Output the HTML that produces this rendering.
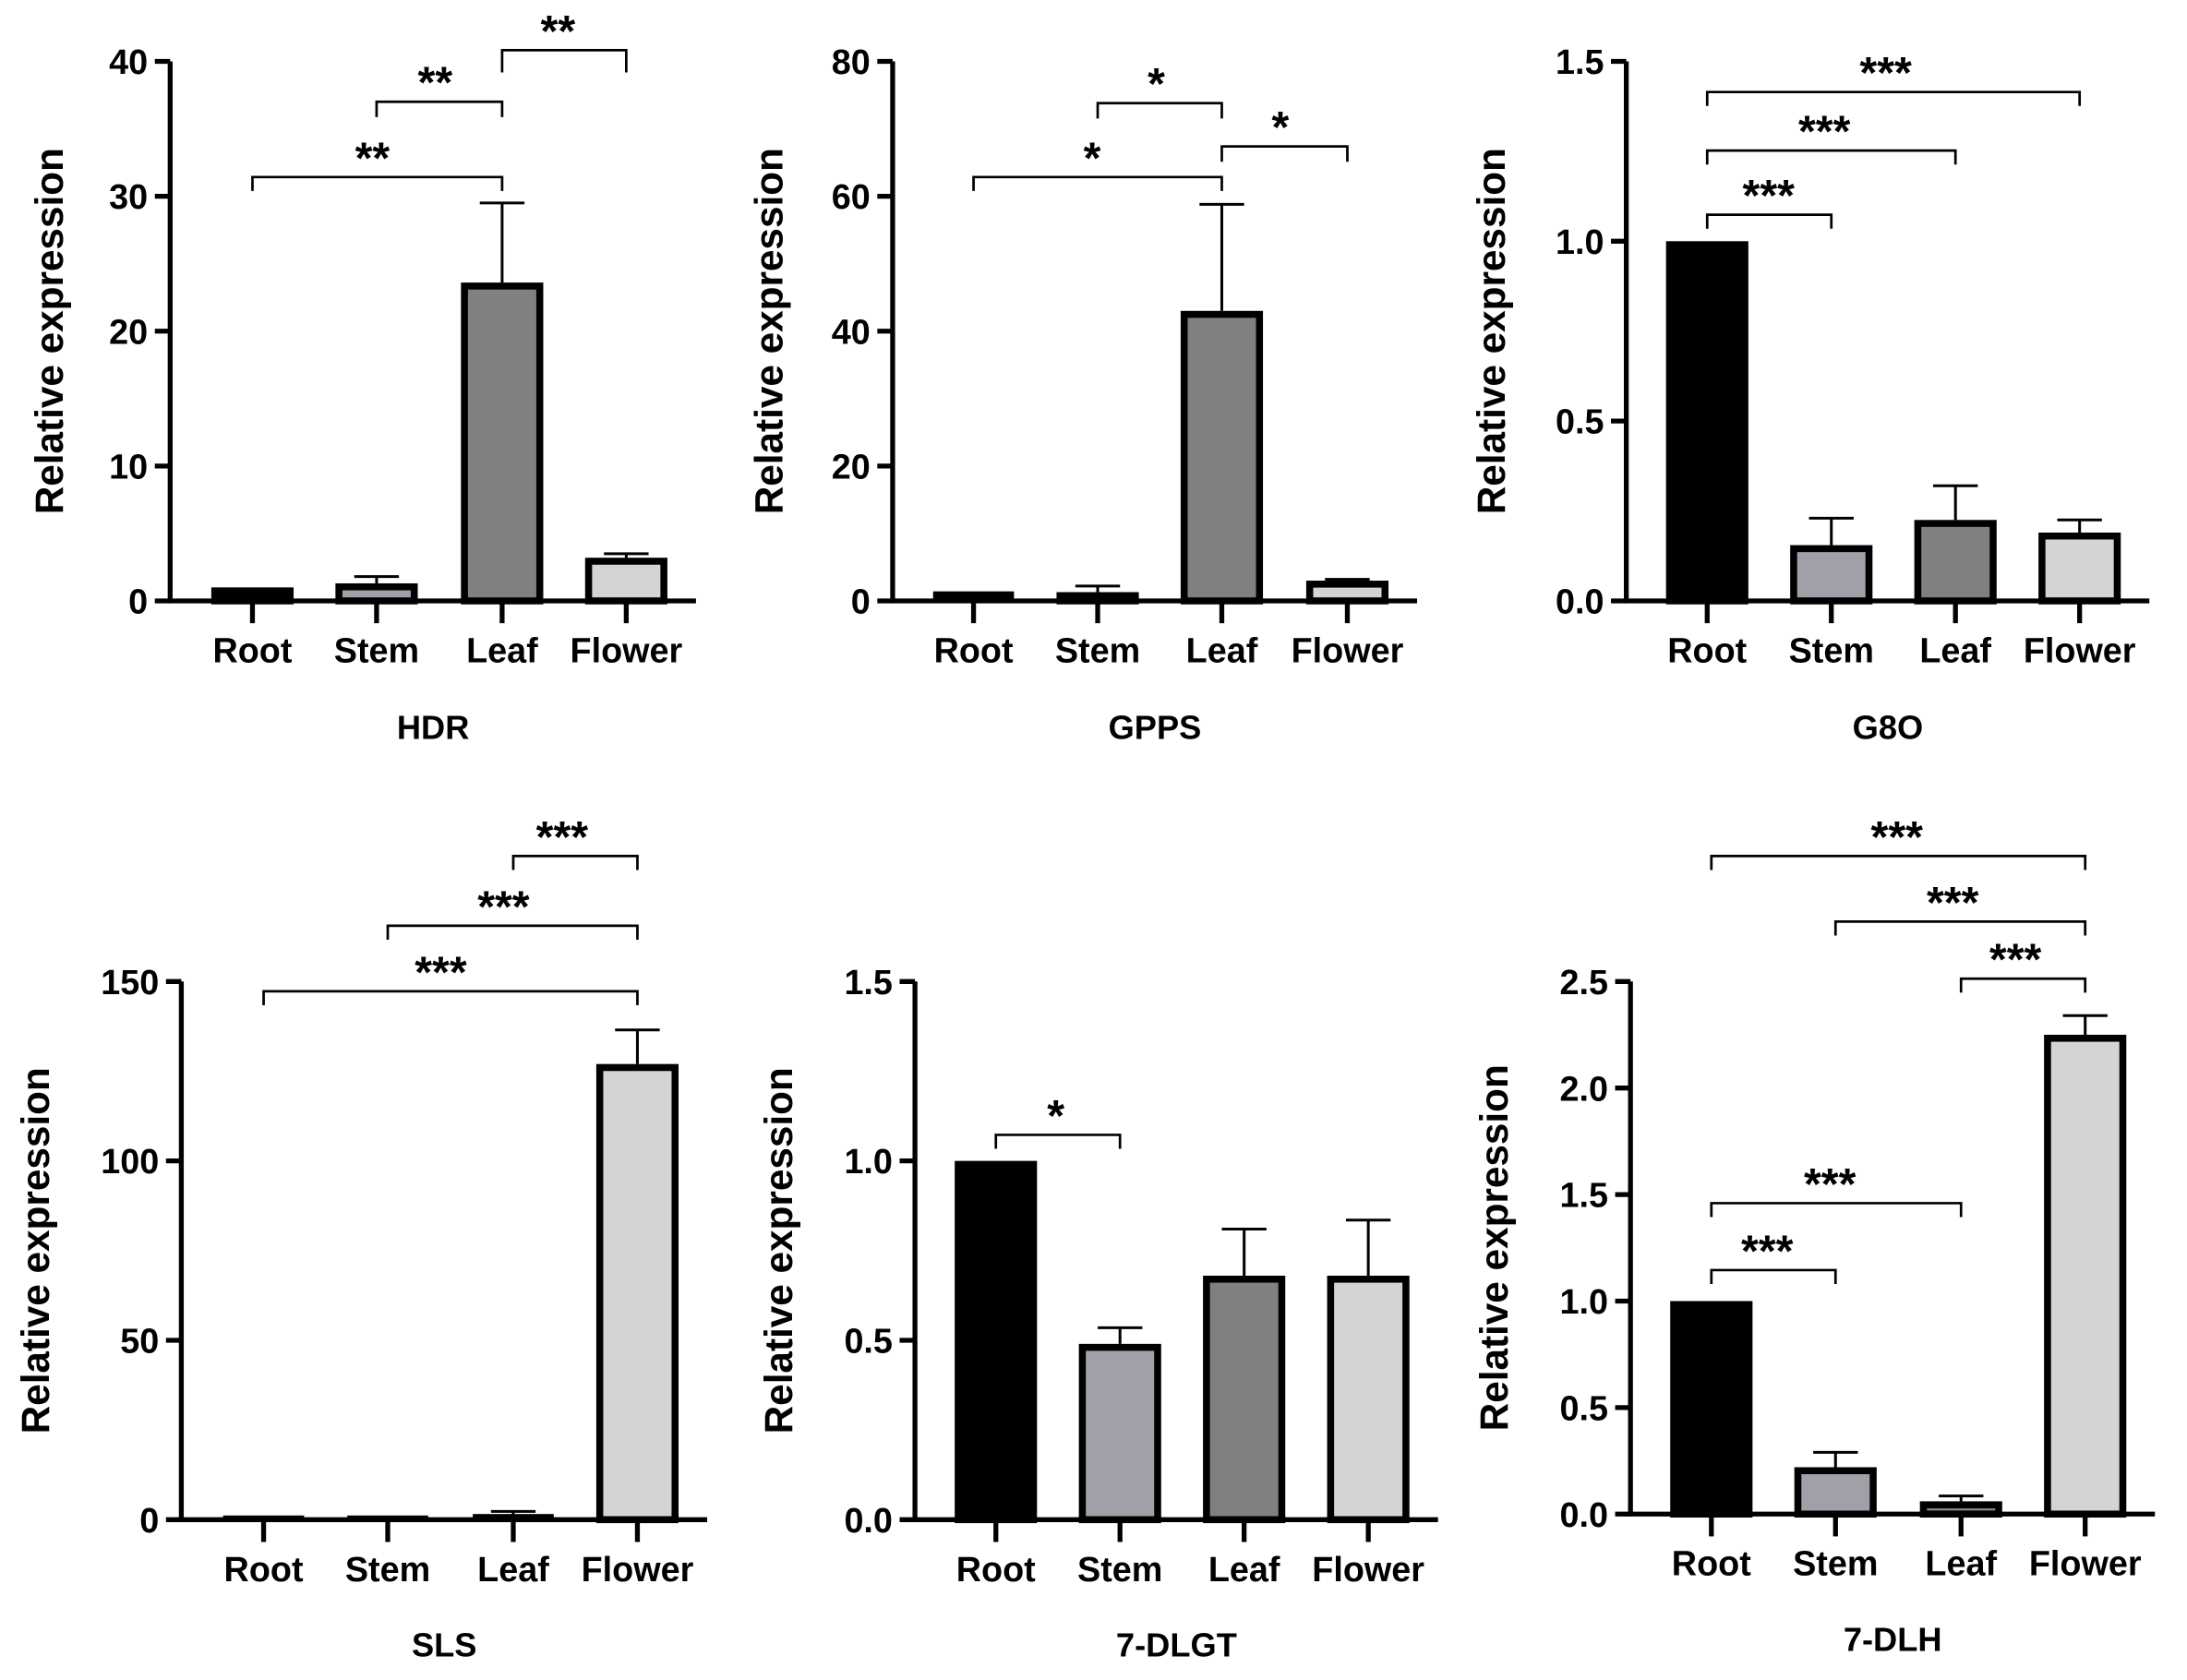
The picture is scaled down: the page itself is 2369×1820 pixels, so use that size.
<!DOCTYPE html>
<html><head><meta charset="utf-8"><style>
html,body{margin:0;padding:0;background:#fff;}
svg{display:block;}
text{font-family:"Liberation Sans",Arial,sans-serif;font-weight:bold;fill:#000;}
</style></head><body>
<svg id="s" width="2369" height="1820" viewBox="0 0 1568 1205" preserveAspectRatio="none" xmlns="http://www.w3.org/2000/svg"></svg>
<script>
const cols=["#000000","#a0a0a8","#808080","#d4d4d4"];
const names=["Root","Stem","Leaf","Flower"];
const P=[
{ax:122,top:44,bot:431,max:40,ticks:[0,10,20,30,40],lab:v=>v,cx:[181,270,360,449],vals:[1,1.3,23.6,3.2],err:[null,1.8,29.5,3.5],title:"HDR",ly:475,ty:530,ylx:35,
 br:[[0,2,127,10,"**",267],[1,2,73,11,"**",312],[2,3,36,16,"**",400]]},
{ax:640,top:44,bot:431,max:80,ticks:[0,20,40,60,80],lab:v=>v,cx:[698,787,876,966],vals:[1,1.3,43,3],err:[null,2.2,58.8,3.2],title:"GPPS",ly:475,ty:530,ylx:551,
 br:[[0,2,127,10,"*",783],[1,2,74,11,"*",829],[2,3,105,11,"*",918]]},
{ax:1166,top:44,bot:431,max:1.5,ticks:[0,0.5,1,1.5],lab:v=>v.toFixed(1),cx:[1224,1313,1402,1491],vals:[1,0.155,0.225,0.19],err:[null,0.23,0.32,0.225],title:"G8O",ly:475,ty:530,ylx:1069,
 br:[[0,1,154,10,"***",1268],[0,2,108,10,"***",1308],[0,3,66,10,"***",1352]]},
{ax:130,top:704,bot:1090,max:150,ticks:[0,50,100,150],lab:v=>v,cx:[189,278,368,457],vals:[0.3,0.1,0.8,127],err:[null,null,2.3,136.5],title:"SLS",ly:1134,ty:1188,ylx:25,
 br:[[0,3,711,10,"***",316],[1,3,664,10,"***",361],[2,3,614,10,"***",403]]},
{ax:656,top:704,bot:1090,max:1.5,ticks:[0,0.5,1,1.5],lab:v=>v.toFixed(1),cx:[714,803,892,981],vals:[1,0.49,0.68,0.68],err:[null,0.535,0.81,0.835],title:"7-DLGT",ly:1134,ty:1188,ylx:558,
 br:[[0,1,814,10,"*",757]]},
{ax:1169,top:704,bot:1086,max:2.5,ticks:[0,0.5,1,1.5,2,2.5],lab:v=>v.toFixed(1),cx:[1227,1316,1406,1495],vals:[1,0.22,0.06,2.25],err:[null,0.29,0.085,2.34],title:"7-DLH",ly:1130,ty:1184,ylx:1071,
 br:[[0,1,911,10,"***",1267],[0,2,863,10,"***",1312],[2,3,702,10,"***",1445],[1,3,661,10,"***",1400],[0,3,614,10,"***",1360]]}
];
let h="";
for(const p of P){
 const Y=v=>p.bot-(p.bot-p.top)*v/p.max;
 const xr=p.cx[3]+50;
 p.vals.forEach((v,i)=>{
  const y=Y(v),x=p.cx[i]-27;
  if(p.err[i]!=null){const ye=Y(p.err[i]);h+=`<line x1="${p.cx[i]}" y1="${y}" x2="${p.cx[i]}" y2="${ye}" stroke="#000" stroke-width="2"/><line x1="${p.cx[i]-16}" y1="${ye}" x2="${p.cx[i]+16}" y2="${ye}" stroke="#000" stroke-width="2"/>`;}
  const hh=Math.max(p.bot-y,1);
  if(hh>6) h+=`<rect x="${x}" y="${y+2.5}" width="54" height="${hh-2.5}" fill="${cols[i]}" stroke="#000" stroke-width="5"/>`;
  else h+=`<rect x="${x-2}" y="${p.bot-Math.max(hh+2,3)}" width="58" height="${Math.max(hh+2,3)}" fill="#000"/>`;
 });
 h+=`<line x1="${p.ax}" y1="${p.top}" x2="${p.ax}" y2="${p.bot+1.5}" stroke="#000" stroke-width="3.5"/>`;
 h+=`<line x1="${p.ax-1.5}" y1="${p.bot}" x2="${xr}" y2="${p.bot}" stroke="#000" stroke-width="3.5"/>`;
 p.ticks.forEach(t=>{const y=Y(t);h+=`<line x1="${p.ax-11}" y1="${y}" x2="${p.ax}" y2="${y}" stroke="#000" stroke-width="3.5"/><text x="${p.ax-16}" y="${y+9}" font-size="25" text-anchor="end">${p.lab(t)}</text>`;});
 p.cx.forEach((c,i)=>{h+=`<line x1="${c}" y1="${p.bot}" x2="${c}" y2="${p.bot+16}" stroke="#000" stroke-width="3.5"/><text x="${c}" y="${p.ly}" font-size="25" text-anchor="middle">${names[i]}</text>`;});
 h+=`<text x="${(p.ax+xr)/2}" y="${p.ty}" font-size="24" text-anchor="middle">${p.title}</text>`;
 const ym=(p.top+p.bot)/2;
 h+=`<text transform="translate(${p.ylx+10},${ym}) rotate(-90)" font-size="28" text-anchor="middle">Relative expression</text>`;
 for(const b of p.br){
  const x1=p.cx[b[0]],x2=p.cx[b[1]],y=b[2],d=b[3];
  h+=`<path d="M${x1} ${y+d}V${y}H${x2}V${y+d}" fill="none" stroke="#000" stroke-width="1.8"/>`;
  h+=`<text x="${b[5]}" y="${y-3}" font-size="32" text-anchor="middle">${b[4]}</text>`;
 }
}
document.getElementById("s").innerHTML=h;
</script>
</body></html>
